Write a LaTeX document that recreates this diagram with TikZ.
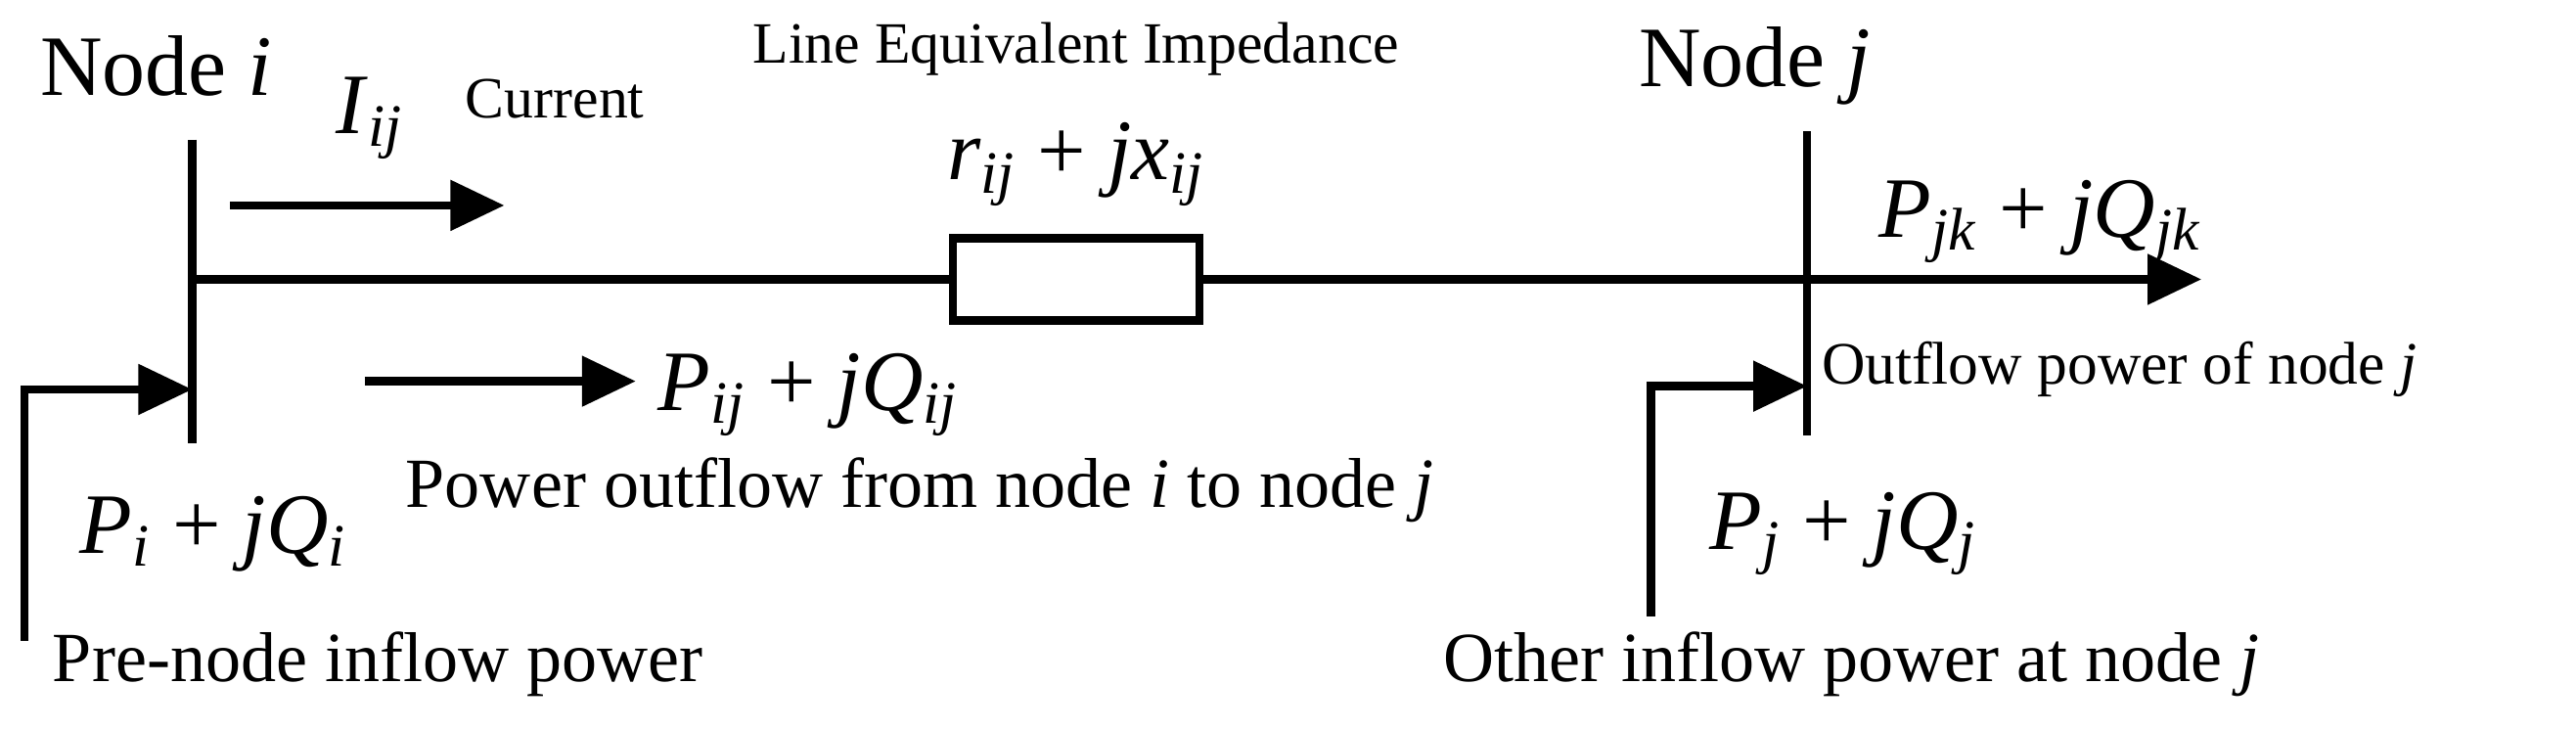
\documentclass[tikz,border=0pt]{standalone}
\usepackage{fontspec}
\setmainfont{Liberation Serif}
\usetikzlibrary{arrows.meta}
\newcommand{\iv}[1]{\textit{#1}}
\newcommand{\sbs}[1]{\textsubscript{\textit{#1}}}
\begin{document}
\begin{tikzpicture}[x=0.01679cm,y=-0.01679cm,
  wire/.style={line width=2.4pt},
  arr/.style={wire,-{Triangle[length=0.55cm,width=0.5cm]}},
  big/.style={font=\fontsize{25}{29}\selectfont,inner sep=0pt},
  mid/.style={font=\fontsize{20.5}{24}\selectfont,inner sep=0pt},
  sml/.style={font=\fontsize{17}{20}\selectfont,inner sep=0pt}]
\useasboundingbox (0,0) rectangle (1568,444);
\coordinate (bi1) at (117,85); \coordinate (bi2) at (117,270);
\coordinate (bj1) at (1100,80); \coordinate (bj2) at (1100,265);
\draw[wire] (bi1) -- (bi2);
\draw[wire] (bj1) -- (bj2);
\node[draw,line width=2.4pt,minimum width=150*0.01679cm,minimum height=50*0.01679cm,inner sep=0pt] (z) at (655,170) {};
\coordinate (m0) at (117,170); \coordinate (m1) at (1340,170);
\draw[wire] (m0) -- (z.west);
\draw[arr] (z.east) -- (m1);
\coordinate (c0) at (140,125); \coordinate (c1) at (307,125);
\draw[arr] (c0) -- (c1);
\coordinate (p0) at (222,232); \coordinate (p1) at (387,232);
\draw[arr] (p0) -- (p1);
\coordinate (l0) at (15,390); \coordinate (l1) at (15,237); \coordinate (l2) at (117,237);
\draw[arr] (l0) -- (l1) -- (l2);
\coordinate (r0) at (1005,375); \coordinate (r1) at (1005,235); \coordinate (r2) at (1100,235);
\draw[arr] (r0) -- (r1) -- (r2);
\node[big] (ni) at (95,40) {Node \iv{i}};
\node[big] (I) at (225,72) {\iv{I}\sbs{ij}};
\node[sml,anchor=west] (cur) at (283,60) {Current};
\node[sml] (lei) at (655,30) {Line Equivalent Impedance};
\node[big] (r) at (655,100) {\iv{r}\sbs{ij} + \iv{jx}\sbs{ij}};
\node[big] (nj) at (1068,40) {Node \iv{j}};
\node[big] (pjk) at (1242,135) {\iv{P}\sbs{jk} + \iv{jQ}\sbs{jk}};
\node[font=\fontsize{17.5}{21}\selectfont,inner sep=0pt] (out) at (1290,225) {Outflow power of node \iv{j}};
\node[big] (pij) at (492,240) {\iv{P}\sbs{ij} + \iv{jQ}\sbs{ij}};
\node[mid] (pof) at (560,298) {Power outflow from node \iv{i} to node \iv{j}};
\node[big] (pi) at (130,325) {\iv{P}\sbs{i} + \iv{jQ}\sbs{i}};
\node[mid] (pre) at (230,404) {Pre-node inflow power};
\node[big] (pj) at (1122,325) {\iv{P}\sbs{j} + \iv{jQ}\sbs{j}};
\node[mid] (oth) at (1127,404) {Other inflow power at node \iv{j}};
\end{tikzpicture}
\end{document}
